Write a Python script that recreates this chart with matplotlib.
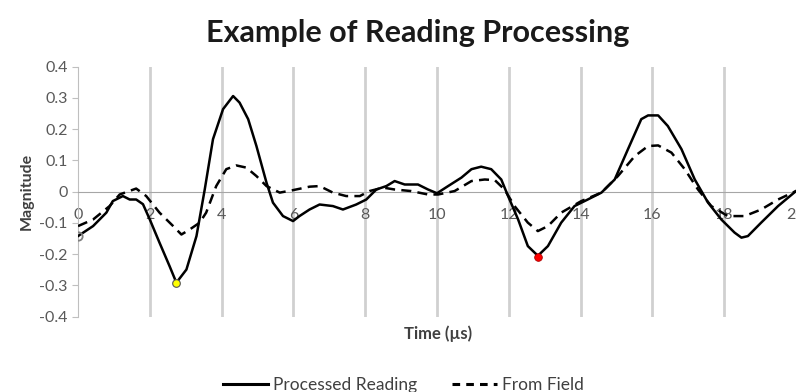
import matplotlib
matplotlib.use('Agg')
import matplotlib.pyplot as plt
from matplotlib.lines import Line2D

plt.rcParams['font.family'] = ['Lato', 'DejaVu Sans']

# Processed Reading (solid)
t_proc = [0, 0.42, 0.79, 0.97, 1.25, 1.44, 1.62, 1.81, 2.0, 2.27, 2.55, 2.74, 3.02, 3.3,
          3.53, 3.76, 4.04, 4.32, 4.5, 4.74, 4.97, 5.25, 5.43, 5.71, 5.99, 6.17, 6.45,
          6.73, 7.1, 7.38, 7.75, 8.03, 8.31, 8.59, 8.82, 9.1, 9.47, 9.75, 10.0, 10.31,
          10.68, 10.96, 11.23, 11.51, 11.79, 11.98, 12.26, 12.53, 12.81, 13.09, 13.46,
          13.83, 14.2, 14.58, 14.95, 15.32, 15.69, 15.88, 16.16, 16.43, 16.81, 17.18,
          17.55, 17.92, 18.29, 18.48, 18.66, 19.03, 19.5, 20.0]
v_proc = [-0.142, -0.11, -0.067, -0.03, -0.014, -0.025, -0.025, -0.04, -0.089, -0.163,
          -0.238, -0.291, -0.249, -0.142, 0.007, 0.168, 0.264, 0.306, 0.285, 0.232,
          0.146, 0.029, -0.035, -0.078, -0.094, -0.078, -0.057, -0.041, -0.046, -0.057,
          -0.041, -0.025, 0.007, 0.018, 0.034, 0.023, 0.023, 0.007, -0.005, 0.018,
          0.045, 0.072, 0.08, 0.072, 0.039, -0.014, -0.089, -0.174, -0.205, -0.174,
          -0.099, -0.046, -0.025, -0.003, 0.039, 0.136, 0.232, 0.244, 0.244, 0.21,
          0.136, 0.039, -0.035, -0.089, -0.131, -0.147, -0.142, -0.099, -0.046, 0.002]

# From Field (dashed)
t_field = [0, 0.42, 0.88, 1.16, 1.62, 1.9, 2.27, 2.65, 2.88, 3.11, 3.39, 3.57, 3.85,
           4.13, 4.41, 4.69, 4.97, 5.25, 5.62, 5.99, 6.45, 6.73, 7.1, 7.47, 7.85, 8.12,
           8.5, 8.82, 9.28, 9.75, 10.03, 10.49, 10.96, 11.33, 11.61, 11.88, 12.16,
           12.53, 12.81, 13.09, 13.46, 14.02, 14.58, 15.04, 15.51, 15.88, 16.16, 16.53,
           16.9, 17.27, 17.64, 18.1, 18.57, 19.03, 19.5, 20.0]
v_field = [-0.11, -0.089, -0.046, -0.009, 0.01, -0.014, -0.067, -0.11, -0.137, -0.121,
           -0.099, -0.067, 0.018, 0.072, 0.084, 0.077, 0.05, 0.018, -0.003, 0.005,
           0.016, 0.018, -0.003, -0.014, -0.014, 0.002, 0.013, 0.007, 0.002, -0.009,
           -0.009, 0.002, 0.034, 0.039, 0.037, 0.007, -0.046, -0.099, -0.126, -0.11,
           -0.067, -0.03, -0.003, 0.05, 0.114, 0.146, 0.148, 0.125, 0.072, 0.007,
           -0.046, -0.078, -0.078, -0.057, -0.025, 0.002]

# highlighted points
start_pt = (0, -0.142)
min1_pt = (2.74, -0.291)
min2_pt = (12.81, -0.208)

x_ticks = [0, 2, 4, 6, 8, 10, 12, 14, 16, 18, 20]
y_ticks = [-0.4, -0.3, -0.2, -0.1, 0, 0.1, 0.2, 0.3, 0.4]

fig = plt.figure(figsize=(7.96, 3.92), dpi=100)
ax = fig.add_axes([0.098, 0.192, 0.902, 0.638])

for xt in x_ticks[1:-1]:
    ax.axvline(xt, color='#d0d0d0', lw=2, zorder=0)

ax.plot(t_proc, v_proc, color='black', lw=1.8, label='Processed Reading', zorder=3)
ax.plot(t_field, v_field, color='black', lw=1.8, dashes=(4, 2.5), label='From Field', zorder=3)

ax.plot(*start_pt, 'o', ms=6, mfc='none', mec='#7f7f7f', mew=1.3, zorder=4)
ax.plot(*min1_pt, 'o', ms=5.5, mfc='#ffff00', mec='#555555', mew=0.8, zorder=5)
ax.plot(*min2_pt, 'o', ms=5.5, mfc='#ff0000', mec='#aa0000', mew=0.6, zorder=5)

ax.set_xlim(0, 20)
ax.set_ylim(-0.4, 0.4)
ax.set_xticks(x_ticks)
ax.set_yticks(y_ticks)
ax.set_yticklabels(['-0.4', '-0.3', '-0.2', '-0.1', '0', '0.1', '0.2', '0.3', '0.4'])

for s in ['top', 'right']:
    ax.spines[s].set_visible(False)
ax.spines['bottom'].set_position(('data', 0))
ax.spines['bottom'].set_color('#a6a6a6')
ax.spines['left'].set_color('#bfbfbf')
ax.tick_params(axis='x', length=0, pad=12, labelsize=11.5, labelcolor='#595959')
ax.tick_params(axis='y', length=4, color='#bfbfbf', labelsize=11.5, labelcolor='#595959')

ax.set_ylabel('Magnitude', fontsize=11.5, fontweight='bold', color='#404040', labelpad=4)
fig.text(0.55, 0.148, 'Time (µs)', ha='center', va='center', fontsize=12,
         fontweight='bold', color='#404040')
fig.text(0.525, 0.915, 'Example of Reading Processing', ha='center', va='center',
         fontsize=22, fontweight='bold', color='#1a1a1a')

handles = [Line2D([], [], color='black', lw=2.2),
           Line2D([], [], color='black', lw=2.2, dashes=(2.5, 2))]
fig.legend(handles, ['Processed Reading', 'From Field'], loc='center',
           bbox_to_anchor=(0.507, 0.018), ncol=2, frameon=False, fontsize=12.5,
           handlelength=2.6, columnspacing=2.0, handletextpad=0.3,
           labelcolor='#404040')

fig.savefig('out.png', dpi=100)
